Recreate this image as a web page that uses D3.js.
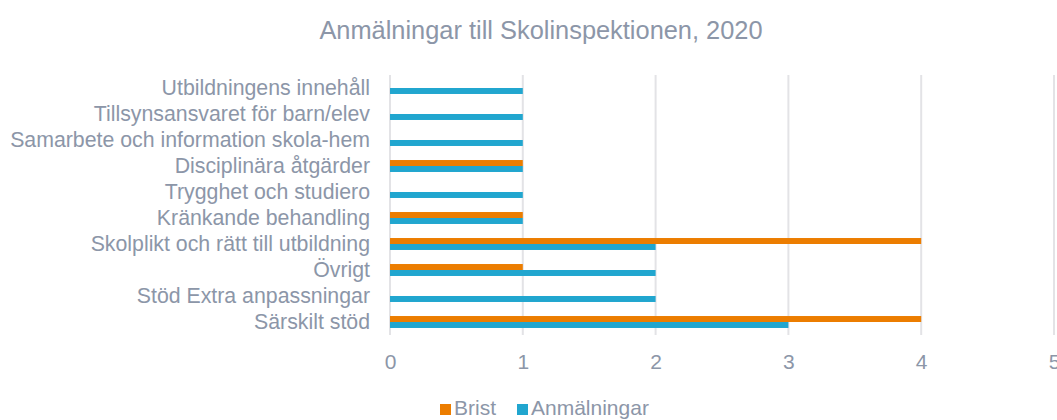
<!DOCTYPE html>
<html><head><meta charset="utf-8">
<script src="https://cdn.jsdelivr.net/npm/d3@7"></script>
<style>body{margin:0;background:#fff}svg{display:block;font-family:"Liberation Sans",Arial,sans-serif}</style>
</head><body><svg id="c" width="1057" height="420"></svg>
<script>
const categories = ["Utbildningens innehåll","Tillsynsansvaret för barn/elev","Samarbete och information skola-hem","Disciplinära åtgärder","Trygghet och studiero","Kränkande behandling","Skolplikt och rätt till utbildning","Övrigt","Stöd Extra anpassningar","Särskilt stöd"];
const brist = [0,0,0,1,0,1,4,1,0,4];
const anmalningar = [1,1,1,1,1,1,2,2,2,3];
const seriesNames = ["Brist","Anmälningar"];
const xTicks = [0,1,2,3,4,5];
const title = "Anmälningar till Skolinspektionen, 2020";

const FONT = "'Liberation Sans', Arial, sans-serif";
const colors = {"Brist":"#EC7D00","Anmälningar":"#21A6CF"};
const textColor = "#8C96A8";
const svg = d3.select("#c");
const m = {left:390, right:1054, top:75, bottom:335};
const x = d3.scaleLinear().domain([0,5]).range([m.left, m.right]);
const y = d3.scaleBand().domain(categories).range([m.top, m.bottom]).paddingInner(0.54).paddingOuter(0.27);
const inner = d3.scaleBand().domain(seriesNames).range([0, y.bandwidth()]);

svg.append("text").attr("x",541).attr("y",39).attr("text-anchor","middle")
  .attr("fill",textColor).attr("font-size",25.4).attr("font-family",FONT).text(title);

// gridlines
svg.append("g").selectAll("line").data(xTicks).join("line")
  .attr("x1",d=>x(d)).attr("x2",d=>x(d)).attr("y1",m.top).attr("y2",m.bottom)
  .attr("stroke","#E3E3E6").attr("stroke-width",2);

const rows = categories.map((c,i)=>({c, vals:[{s:"Brist",v:brist[i]},{s:"Anmälningar",v:anmalningar[i]}]}));
const g = svg.append("g").selectAll("g").data(rows).join("g").attr("transform",d=>`translate(0,${y(d.c)})`);
g.selectAll("rect").data(d=>d.vals).join("rect")
  .attr("x",x(0)).attr("y",d=>inner(d.s)).attr("height",inner.bandwidth())
  .attr("width",d=>x(d.v)-x(0)).attr("fill",d=>colors[d.s]);

// category labels
const ya = d3.axisLeft(y).tickSize(0).tickPadding(20);
const yg = svg.append("g").attr("transform",`translate(${m.left},0)`).call(ya);
yg.attr("font-family",FONT).attr("font-size",21.3);
yg.select(".domain").remove();
yg.selectAll("text").attr("fill",textColor);

// x axis
const xa = d3.axisBottom(x).tickValues(xTicks).tickSize(0).tickPadding(19).tickFormat(d3.format("d"));
const xg = svg.append("g").attr("transform",`translate(0,${m.bottom})`).call(xa);
xg.attr("font-family",FONT).attr("font-size",21);
xg.select(".domain").remove();
xg.selectAll("text").attr("fill",textColor);

// legend
const leg = svg.append("g").attr("transform","translate(440,415)").attr("font-family",FONT).attr("font-size",21);
const items = [{s:"Brist",x:0},{s:"Anmälningar",x:77}];
items.forEach(it=>{
  leg.append("rect").attr("x",it.x).attr("y",-11).attr("width",11).attr("height",11).attr("fill",colors[it.s]);
  leg.append("text").attr("x",it.x+14).attr("y",0).attr("fill",textColor).text(it.s);
});
</script></body></html>
